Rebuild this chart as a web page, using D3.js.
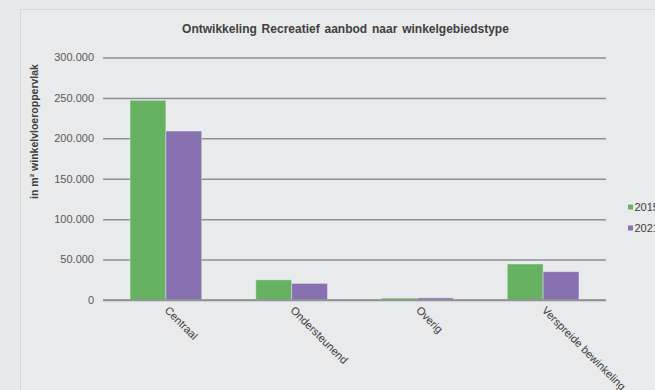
<!DOCTYPE html>
<html>
<head>
<meta charset="utf-8">
<script src="https://cdn.jsdelivr.net/npm/d3@7"></script>
<style>
  body { margin: 0; background: #e8e9eb; font-family: "Liberation Sans", Arial, sans-serif; }
  svg { display: block; }
  .grid line { stroke: #8f8f8f; stroke-width: 1.5; }
  .grid path { display: none; }
  .y-label { fill: #595959; font-size: 11px; }
  .x-label { fill: #404040; font-size: 11px; }
</style>
</head>
<body>
<script>
// Chart data
var categories = ['Centraal', 'Ondersteunend', 'Overig', 'Verspreide bewinkeling'];
var series = ['2015', '2021'];
var values2015 = [247000, 25000, 2300, 44500];
var values2021 = [209000, 20500, 2600, 35000];
var yTicks = [0, 50000, 100000, 150000, 200000, 250000, 300000];
var colors = ['#66b162', '#8771b0'];

var svg_width = 655;
var svg_height = 390;

// plot area
var plot_left = 103;
var plot_right = 606;
var plot_top = 57.5;
var plot_bottom = 300;

var svg = d3.select('body').append('svg')
  .attr('width', svg_width)
  .attr('height', svg_height);

// Panel border (starts a little in, runs past right/bottom edge)
svg.append('rect')
  .attr('x', 20.5)
  .attr('y', 9.5)
  .attr('width', 700)
  .attr('height', 500)
  .attr('fill', '#e9eaec')
  .attr('stroke', '#d6d7d9');

var nl = d3.formatLocale({decimal: ',', thousands: '.', grouping: [3], currency: ['€', '']});
var fmt = nl.format(',d');

var x = d3.scaleBand()
  .domain(categories)
  .range([plot_left, plot_right])
  .paddingInner(0.43)
  .paddingOuter(0.215);

var xs = d3.scaleBand()
  .domain(series)
  .range([0, x.bandwidth()]);

var y = d3.scaleLinear()
  .domain([0, 300000])
  .range([plot_bottom, plot_top]);

// gridlines
var grid = svg.append('g')
  .attr('class', 'grid')
  .attr('transform', 'translate(' + plot_left + ',0)')
  .call(d3.axisLeft(y).tickValues(yTicks).tickSize(-(plot_right - plot_left)).tickFormat(''));

// y tick labels
svg.selectAll('text.y-label')
  .data(yTicks)
  .enter()
  .append('text')
  .attr('class', 'y-label')
  .attr('x', 94)
  .attr('y', function(d) { return y(d); })
  .attr('dy', '0.35em')
  .attr('text-anchor', 'end')
  .text(function(d) { return fmt(d); });

// bars
var table = categories.map(function(c, i) {
  return {cat: c, vals: [values2015[i], values2021[i]]};
});

var groups = svg.selectAll('g.cat')
  .data(table)
  .enter()
  .append('g')
  .attr('class', 'cat')
  .attr('transform', function(d) { return 'translate(' + x(d.cat) + ',0)'; });

groups.selectAll('rect')
  .data(function(d) { return d.vals.map(function(v, i) { return {s: series[i], v: v, i: i}; }); })
  .enter()
  .append('rect')
  .attr('x', function(d) { return xs(d.s); })
  .attr('y', function(d) { return y(d.v); })
  .attr('width', xs.bandwidth())
  .attr('height', function(d) { return plot_bottom - y(d.v); })
  .attr('fill', function(d) { return colors[d.i]; })
  .attr('stroke', 'rgba(255,255,255,0.35)')
  .attr('stroke-width', 1);

// baseline again on top of bars
svg.append('line')
  .attr('x1', plot_left)
  .attr('x2', plot_right)
  .attr('y1', y(0))
  .attr('y2', y(0))
  .attr('stroke', '#8f8f8f')
  .attr('stroke-width', 1.5);

// x labels, rotated
svg.selectAll('text.x-label')
  .data(categories)
  .enter()
  .append('text')
  .attr('class', 'x-label')
  .attr('transform', function(d) {
    return 'translate(' + (x(d) + x.bandwidth() / 2 - 2) + ',' + 311 + ') rotate(45)';
  })
  .attr('text-anchor', 'start')
  .text(function(d) { return d; });

// title
svg.append('text')
  .attr('x', 345.5)
  .attr('y', 33)
  .attr('text-anchor', 'middle')
  .attr('font-size', '12px')
  .attr('font-weight', 'bold')
  .attr('fill', '#404040')
  .attr('word-spacing', '1.5px')
  .text('Ontwikkeling Recreatief aanbod naar winkelgebiedstype');

// y axis title
svg.append('text')
  .attr('transform', 'translate(38,' + 131.5 + ') rotate(-90)')
  .attr('text-anchor', 'middle')
  .attr('font-size', '10.5px')
  .attr('font-weight', 'bold')
  .attr('fill', '#404040')
  .text('in m² winkelvloeroppervlak');

// legend
var legend = svg.selectAll('g.legend')
  .data(series)
  .enter()
  .append('g')
  .attr('class', 'legend')
  .attr('transform', function(d, i) { return 'translate(628,' + (204.5 + i * 21) + ')'; });

legend.append('rect')
  .attr('width', 5)
  .attr('height', 5)
  .attr('fill', function(d, i) { return colors[i]; });

legend.append('text')
  .attr('x', 6.5)
  .attr('y', 2.5)
  .attr('dy', '0.35em')
  .attr('font-size', '11px')
  .attr('fill', '#404040')
  .text(function(d) { return d; });
</script>
</body>
</html>
